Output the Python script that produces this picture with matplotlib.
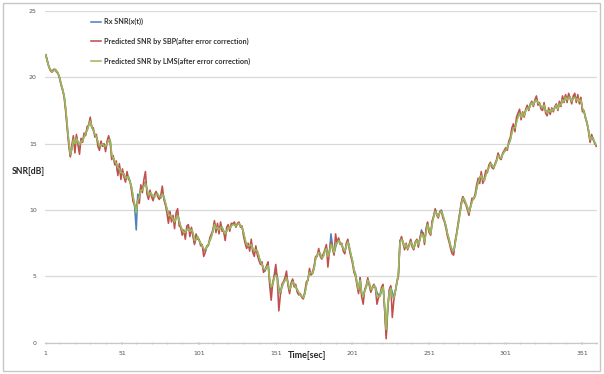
import matplotlib
matplotlib.use("Agg")
import matplotlib.pyplot as plt
from matplotlib.patches import Rectangle
from matplotlib.ticker import MultipleLocator

# Received SNR and the two predictions (dB), one sample per second
rx_snr = [
    21.7, 21.2, 20.8, 20.6, 20.4, 20.5, 20.6, 20.5, 20.3, 20.0,
    19.5, 19.1, 18.6, 17.6, 16.3, 15.1, 14.1, 14.6, 15.3, 15.0,
    15.5, 15.1, 14.8, 15.3, 15.2, 15.6, 15.8, 16.0, 16.4, 16.8,
    16.3, 16.0, 15.7, 15.5, 15.1, 14.7, 14.9, 15.0, 14.8, 14.7,
    15.0, 15.4, 15.3, 14.1, 13.9, 13.6, 13.4, 12.8, 13.3, 12.6,
    12.9, 12.7, 12.3, 12.6, 12.5, 12.1, 11.7, 10.9, 10.2, 8.5,
    11.2, 11.0, 11.7, 11.5, 11.9, 12.1, 11.6, 11.0, 11.3, 11.2,
    10.9, 11.0, 11.3, 11.2, 11.0, 10.9, 11.3, 11.0, 10.5, 10.1,
    9.8, 9.6, 9.5, 9.3, 9.0, 9.4, 9.7, 9.2, 8.7, 8.5,
    8.3, 8.2, 8.5, 8.7, 8.4, 8.5, 8.3, 7.5, 7.8, 8.0,
    7.7, 7.5, 7.3, 7.0, 6.9, 7.2, 7.4, 7.7, 8.0, 8.4,
    9.0, 8.6, 8.7, 8.5, 8.8, 8.7, 8.4, 8.1, 8.4, 8.7,
    8.6, 8.8, 9.0, 8.9, 8.8, 8.9, 9.0, 8.8, 8.7, 8.3,
    7.7, 7.4, 7.2, 7.3, 7.5, 7.1, 6.8, 7.0, 6.9, 6.5,
    6.1, 5.9, 5.6, 5.4, 5.7, 5.9, 4.7, 4.0, 4.4, 4.9,
    5.3, 5.0, 4.1, 3.7, 4.2, 4.5, 4.7, 5.0, 4.5, 3.9,
    4.3, 4.7, 4.4, 4.2, 4.0, 3.7, 3.6, 3.5, 3.4, 3.7,
    4.4, 4.8, 5.4, 5.3, 5.2, 5.6, 6.4, 6.6, 6.9, 6.7,
    6.4, 6.5, 6.9, 7.2, 6.6, 6.8, 8.2, 7.3, 6.7, 7.2,
    7.6, 7.8, 7.5, 7.4, 7.1, 6.8, 7.3, 7.7, 7.2, 6.6,
    6.2, 5.5, 5.2, 4.5, 3.9, 4.9, 3.7, 3.6, 3.9, 4.2,
    4.7, 4.5, 3.9, 4.1, 4.3, 4.2, 3.8, 3.6, 3.5, 4.0,
    4.2, 2.6, 0.6, 2.6, 3.9, 4.2, 3.8, 3.4, 3.9, 4.5,
    5.2, 7.7, 7.9, 7.6, 7.2, 7.4, 7.1, 7.3, 7.7, 7.4,
    7.1, 7.5, 7.7, 7.4, 7.8, 8.5, 8.2, 7.6, 8.4, 9.0,
    8.5, 8.2, 9.0, 9.6, 10.0, 9.7, 9.5, 9.8, 10.0, 9.6,
    9.2, 8.8, 8.2, 7.8, 7.3, 7.0, 6.8, 7.5, 8.2, 8.9,
    9.7, 10.4, 11.0, 10.8, 10.5, 10.2, 9.8, 10.2, 10.7, 10.9,
    11.0, 11.6, 12.2, 12.4, 12.7, 12.3, 12.2, 12.7, 13.0, 13.2,
    13.5, 13.4, 13.2, 13.4, 13.7, 14.2, 14.0, 13.9, 14.2, 14.4,
    14.5, 14.7, 15.0, 15.3, 15.9, 16.3, 16.2, 16.7, 17.1, 17.4,
    17.0, 17.3, 17.1, 17.5, 17.8, 17.6, 17.9, 18.1, 17.9, 18.2,
    18.4, 18.1, 18.0, 17.8, 17.7, 17.9, 17.5, 17.3, 17.5, 17.4,
    17.6, 17.5, 17.7, 17.9, 17.6, 18.1, 17.9, 18.4, 18.2, 18.6,
    18.3, 18.6, 18.5, 18.2, 18.4, 18.6, 18.3, 18.5, 18.2, 18.3,
    17.6, 17.4, 17.0, 16.5, 16.0, 15.2, 15.6, 15.4, 15.0, 14.9,
]

sbp_pred = [
    21.7, 21.3, 20.8, 20.5, 20.4, 20.6, 20.6, 20.4, 20.3, 19.9,
    19.4, 19.0, 18.5, 17.4, 16.1, 14.9, 14.0, 14.9, 15.6, 14.3,
    15.7, 14.9, 14.2, 15.4, 15.1, 15.8, 15.6, 16.3, 16.4, 17.0,
    16.2, 16.2, 15.5, 15.7, 14.8, 14.5, 15.2, 14.8, 15.0, 14.4,
    15.2, 15.6, 15.1, 13.8, 14.1, 13.4, 13.7, 12.6, 13.5, 12.3,
    13.1, 12.5, 12.1, 12.9, 12.3, 12.2, 11.4, 10.6, 10.4, 10.0,
    10.8, 10.5, 11.9, 11.3, 12.3, 12.9, 11.2, 10.8, 11.5, 11.0,
    10.7, 11.2, 11.4, 11.0, 10.8, 11.1, 11.8, 10.8, 10.4, 9.8,
    9.0, 9.9, 9.1, 9.6, 8.6, 9.8, 10.1, 8.8, 8.7, 8.1,
    8.5, 7.8, 8.8, 8.9, 8.0, 8.7, 8.0, 7.4, 8.2, 7.8,
    7.8, 7.3, 7.4, 6.5, 6.8, 7.3, 7.3, 7.9, 8.2, 8.5,
    9.2, 8.3, 9.0, 8.2, 9.1, 8.4, 8.4, 7.7, 8.7, 8.9,
    8.4, 9.0, 8.9, 9.1, 8.7, 9.0, 9.1, 8.7, 8.8, 8.0,
    7.5, 7.1, 7.5, 6.9, 7.8, 6.8, 6.5, 7.3, 6.6, 6.2,
    5.9, 6.1, 5.3, 5.5, 5.8, 6.1, 4.4, 3.2, 4.5, 5.1,
    5.9, 4.8, 2.4, 3.6, 4.4, 4.6, 4.9, 5.4, 4.3, 3.7,
    4.5, 4.8, 4.2, 4.4, 3.8, 3.6, 3.7, 3.4, 3.3, 3.9,
    4.6, 4.7, 5.6, 5.1, 5.3, 5.8, 6.5, 6.5, 7.1, 6.5,
    6.3, 6.7, 7.0, 7.4, 5.7, 6.9, 7.6, 7.1, 6.6, 8.2,
    7.5, 7.9, 7.4, 7.5, 6.9, 6.7, 7.5, 7.8, 7.0, 6.5,
    6.0, 5.3, 5.0, 4.3, 3.7, 4.9, 3.5, 2.9, 4.0, 4.3,
    4.9, 4.3, 3.8, 4.2, 4.4, 4.1, 2.9, 3.4, 3.6, 4.2,
    4.4, 2.5, 0.3, 2.4, 4.0, 4.3, 1.9, 3.2, 3.9, 4.6,
    5.0, 7.6, 8.0, 7.5, 7.0, 7.5, 7.0, 7.4, 7.8, 7.2,
    7.0, 7.6, 7.8, 7.2, 7.9, 8.3, 8.3, 7.4, 8.6, 9.1,
    8.3, 8.1, 9.2, 9.5, 10.1, 9.6, 9.4, 9.9, 9.9, 9.4,
    9.1, 8.6, 8.0, 7.6, 7.1, 6.7, 6.6, 7.7, 8.3, 9.1,
    9.8, 10.6, 11.0, 10.6, 10.4, 10.0, 9.6, 10.3, 10.9, 10.8,
    11.2, 11.9, 12.4, 12.0, 12.9, 12.0, 12.4, 13.0, 12.8, 13.4,
    13.6, 13.2, 13.1, 13.5, 13.8, 14.3, 13.9, 13.8, 14.3, 14.5,
    14.7, 14.5, 15.2, 15.5, 16.2, 16.5, 15.9, 17.0, 17.3, 17.6,
    16.8, 17.4, 17.0, 17.6, 17.9, 17.5, 18.0, 18.2, 17.8, 18.3,
    18.6, 17.9, 18.1, 17.6, 17.5, 18.1, 17.3, 17.1, 17.7, 17.2,
    17.7, 17.4, 17.8, 18.0, 17.5, 18.2, 17.8, 18.6, 18.1, 18.7,
    18.1, 18.8, 18.4, 18.0, 18.6, 18.8, 18.1, 18.7, 18.0, 18.5,
    17.4, 17.5, 16.9, 16.6, 15.9, 15.1, 15.7, 15.3, 15.1, 14.8,
]

lms_pred = [
    21.7, 21.2, 20.8, 20.6, 20.4, 20.5, 20.6, 20.5, 20.3, 20.0,
    19.5, 19.1, 18.6, 17.7, 16.4, 15.2, 14.2, 14.6, 15.3, 15.0,
    15.4, 15.1, 14.9, 15.2, 15.2, 15.5, 15.8, 16.0, 16.4, 16.7,
    16.3, 16.0, 15.7, 15.5, 15.2, 14.8, 14.9, 15.0, 14.8, 14.8,
    15.0, 15.3, 15.3, 14.2, 13.9, 13.7, 13.5, 13.2, 13.1, 12.8,
    12.8, 12.7, 12.4, 12.5, 12.5, 12.1, 11.7, 11.0, 10.4, 9.8,
    10.7, 11.0, 11.5, 11.5, 11.8, 12.0, 11.6, 11.1, 11.3, 11.2,
    11.0, 11.0, 11.2, 11.2, 11.0, 11.0, 11.2, 11.0, 10.6, 10.1,
    9.7, 9.6, 9.5, 9.3, 9.1, 9.4, 9.6, 9.2, 8.8, 8.5,
    8.3, 8.3, 8.5, 8.6, 8.4, 8.5, 8.3, 7.7, 7.8, 8.0,
    7.7, 7.5, 7.3, 7.1, 7.0, 7.2, 7.4, 7.7, 8.0, 8.4,
    8.9, 8.6, 8.7, 8.5, 8.7, 8.7, 8.4, 8.2, 8.4, 8.7,
    8.6, 8.8, 8.9, 8.9, 8.8, 8.9, 9.0, 8.8, 8.7, 8.3,
    7.8, 7.4, 7.3, 7.3, 7.4, 7.1, 6.9, 7.0, 6.9, 6.5,
    6.1, 5.9, 5.6, 5.5, 5.7, 5.8, 4.8, 4.2, 4.4, 4.9,
    5.1, 4.9, 3.9, 3.8, 4.2, 4.5, 4.7, 4.9, 4.5, 4.0,
    4.3, 4.6, 4.4, 4.2, 4.0, 3.8, 3.6, 3.5, 3.4, 3.7,
    4.3, 4.8, 5.3, 5.3, 5.2, 5.6, 6.3, 6.6, 6.8, 6.7,
    6.4, 6.5, 6.9, 7.1, 6.5, 6.8, 7.4, 7.2, 6.8, 7.4,
    7.5, 7.7, 7.5, 7.4, 7.1, 6.9, 7.3, 7.6, 7.2, 6.7,
    6.2, 5.5, 5.1, 4.5, 4.0, 4.7, 3.8, 3.5, 3.9, 4.2,
    4.7, 4.5, 4.0, 4.1, 4.3, 4.2, 3.5, 3.5, 3.5, 4.0,
    4.2, 2.8, 1.0, 2.7, 3.8, 4.1, 3.4, 3.4, 3.9, 4.5,
    5.3, 7.5, 7.8, 7.6, 7.2, 7.4, 7.1, 7.3, 7.6, 7.4,
    7.1, 7.5, 7.7, 7.4, 7.7, 8.2, 8.1, 7.6, 8.3, 8.9,
    8.5, 8.2, 8.9, 9.5, 9.9, 9.7, 9.5, 9.8, 9.9, 9.6,
    9.2, 8.8, 8.2, 7.8, 7.3, 7.0, 6.9, 7.5, 8.2, 8.9,
    9.6, 10.4, 10.9, 10.8, 10.5, 10.2, 9.8, 10.2, 10.6, 10.9,
    11.0, 11.6, 12.1, 12.4, 12.6, 12.3, 12.2, 12.6, 13.0, 13.2,
    13.5, 13.4, 13.2, 13.4, 13.7, 14.1, 14.0, 13.9, 14.2, 14.4,
    14.5, 14.7, 15.0, 15.3, 15.8, 16.2, 16.2, 16.6, 17.0, 17.3,
    17.0, 17.3, 17.1, 17.5, 17.7, 17.6, 17.9, 18.1, 17.9, 18.2,
    18.3, 18.1, 18.0, 17.8, 17.7, 17.9, 17.5, 17.3, 17.5, 17.4,
    17.6, 17.5, 17.7, 17.9, 17.6, 18.0, 17.9, 18.3, 18.2, 18.5,
    18.3, 18.5, 18.5, 18.2, 18.4, 18.5, 18.3, 18.4, 18.2, 18.3,
    17.7, 17.4, 17.0, 16.6, 16.0, 15.3, 15.5, 15.4, 15.1, 14.9,
]

time_sec = list(range(1, len(rx_snr) + 1))
x_tick_labels = [1, 51, 101, 151, 201, 251, 301, 351]
y_ticks = [0, 5, 10, 15, 20, 25]

series_labels = [
    "Rx SNR(x(t))",
    "Predicted SNR by SBP(after error correction)",
    "Predicted SNR by LMS(after error correction)",
]
series_colors = ["#4F81BD", "#C0504D", "#9BBB59"]

W, H = 604, 374
fig = plt.figure(figsize=(W / 100, H / 100), dpi=100)
fig.patch.set_facecolor("white")

# outer chart frame
fig.patches.append(Rectangle((3 / W, 3 / H), 597 / W, 368 / H,
                             transform=fig.transFigure, fill=False,
                             edgecolor="#c6c6c6", linewidth=1.0))

left, right = 45 / W, 597 / W
bottom, top = 1 - 342.7 / H, 1 - 11 / H
ax = fig.add_axes([left, bottom, right - left, top - bottom])

for ys, lab, col in zip([rx_snr, sbp_pred, lms_pred], series_labels, series_colors):
    ax.plot(time_sec, ys, color=col, linewidth=1.15, label=lab,
            solid_joinstyle="round")

ax.set_xlim(0.5, len(rx_snr) + 0.5)
ax.set_ylim(0, 25)
ax.set_yticks(y_ticks)
ax.set_xticks(x_tick_labels)
ax.xaxis.set_minor_locator(MultipleLocator(10))

ax.grid(axis="y", color="#d9d9d9", linewidth=0.9)
ax.set_axisbelow(True)
for s in ["left", "right", "top"]:
    ax.spines[s].set_visible(False)
ax.spines["bottom"].set_color("#c8c8c8")
ax.spines["bottom"].set_linewidth(0.9)

ax.tick_params(axis="y", length=0, labelsize=4.5, labelcolor="#555555", pad=6)
ax.tick_params(axis="x", which="major", length=2, color="#c8c8c8",
               labelsize=4.5, labelcolor="#555555", pad=5, direction="inout")
ax.tick_params(axis="x", which="minor", length=2, color="#c8c8c8", direction="inout")

fig.text(28 / W, 1 - 171.5 / H, "SNR[dB]", ha="center", va="center",
         fontsize=6.2, fontweight="bold", color="#262626", family="Lato")
fig.text(307 / W, 1 - 356 / H, "Time[sec]", ha="center", va="center",
         fontsize=6.5, fontweight="bold", color="#262626", family="Lato")

leg = ax.legend(loc="upper left", bbox_to_anchor=(91 / W, 1 - 18 / H),
                bbox_transform=fig.transFigure, frameon=False,
                prop={"family": "Lato", "weight": "bold", "size": 5.2},
                handlelength=1.4, handletextpad=0.4, labelspacing=1.75,
                borderpad=0, borderaxespad=0)
for t in leg.get_texts():
    t.set_color("#333333")

fig.savefig("out.png", dpi=100, facecolor="white")
